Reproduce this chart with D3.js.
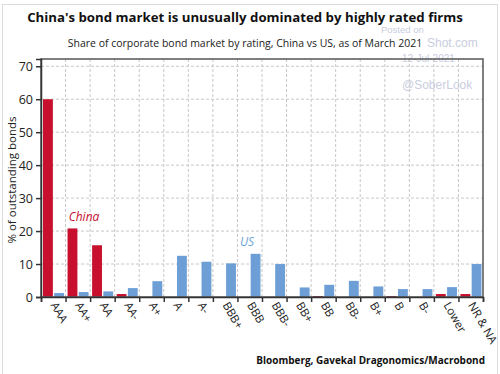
<!DOCTYPE html>
<html>
<head>
<meta charset="utf-8">
<script src="https://cdn.jsdelivr.net/npm/d3@7"></script>
<style>
  body { margin: 0; background: #fff; }
  svg { display: block; font-family: 'Open Sans', 'Noto Sans', sans-serif; }
</style>
</head>
<body>
<div id="chart"></div>
<script>
// Data
const ratings = ['AAA', 'AA+', 'AA', 'AA-', 'A+', 'A', 'A-', 'BBB+', 'BBB', 'BBB-',
  'BB+', 'BB', 'BB-', 'B+', 'B', 'B-', 'Lower', 'NR & NA'];
const chinaShare = [60, 20.8, 15.7, 0.9, 0, 0, 0, 0, 0, 0, 0, 0.3, 0, 0, 0.3, 0, 0.9, 0.9];
const usShare = [1.2, 1.5, 1.7, 2.7, 4.8, 12.5, 10.7, 10.2, 13.1, 10.0,
  2.9, 3.7, 4.9, 3.2, 2.4, 2.4, 3.0, 10.0];
const seriesNames = ['China', 'US'];
const yTicks = [0, 10, 20, 30, 40, 50, 60, 70];

const width = 500;
const height = 374;
const margin = { top: 59, right: 17, bottom: 77, left: 41 };

const red = '#c8102e';
const blue = '#6d9fd6';

const svg = d3.select('#chart')
  .append('svg')
  .attr('width', width)
  .attr('height', height);

// light outer frame of the picture
svg.append('rect')
  .attr('x', 2.5).attr('y', 4.5)
  .attr('width', 495).attr('height', 380)
  .attr('fill', 'none')
  .attr('stroke', '#dcdcdc');

// Scales
const x = d3.scaleBand()
  .domain(ratings)
  .range([margin.left, width - margin.right])
  .padding(0);
const xSub = d3.scaleBand()
  .domain(seriesNames)
  .range([2, x.bandwidth() - 1.5])
  .paddingInner(0.12);
const y = d3.scaleLinear()
  .domain([0, 72.2])
  .range([height - margin.bottom, margin.top]);

// fit a text element to a target width by scaling its font size
const fitWidth = (sel, target) => {
  const node = sel.node();
  const fs = parseFloat(sel.attr('font-size'));
  const len = node.getComputedTextLength();
  sel.attr('font-size', fs * target / len);
};

// Watermark (behind everything)
const wm = svg.append('g')
  .attr('fill', '#c9cde0')
  .attr('font-family', 'Liberation Sans, Arial, sans-serif')
  .attr('font-size', 10);
wm.append('text').attr('x', 381).attr('y', 33).attr('font-size', 9.5).text('Posted on');
wm.append('text').attr('x', 427).attr('y', 47).attr('font-size', 12).text('Shot.com');
wm.append('text').attr('x', 402).attr('y', 62).text('12-Jul-2021');
wm.append('text').attr('x', 402).attr('y', 89).attr('font-size', 12).text('@SoberLook');

// Gridlines
const grid = svg.append('g')
  .attr('stroke', '#c8c8c8')
  .attr('stroke-dasharray', '3,2')
  .attr('stroke-width', 1);
grid.selectAll('.hgrid')
  .data(yTicks.filter((d) => d > 0))
  .join('line')
  .attr('x1', margin.left).attr('x2', width - margin.right)
  .attr('y1', (d) => y(d)).attr('y2', (d) => y(d));
grid.selectAll('.vgrid')
  .data(ratings.slice(1))
  .join('line')
  .attr('x1', (d) => x(d)).attr('x2', (d) => x(d))
  .attr('y1', margin.top).attr('y2', y(0));

// Bars
const groups = svg.append('g')
  .selectAll('g')
  .data(ratings.map((r, i) => ({ rating: r, values: [chinaShare[i], usShare[i]] })))
  .join('g')
  .attr('transform', (d) => `translate(${x(d.rating)},0)`);
groups.selectAll('rect')
  .data((d) => d.values.map((v, j) => ({ name: seriesNames[j], value: v })))
  .join('rect')
  .filter((d) => d.value > 0)
  .attr('x', (d) => xSub(d.name))
  .attr('width', xSub.bandwidth())
  .attr('y', (d) => y(d.value))
  .attr('height', (d) => y(0) - y(d.value))
  .attr('fill', (d) => (d.name === 'China' ? red : blue));

// Plot frame
svg.append('rect')
  .attr('x', margin.left).attr('y', margin.top)
  .attr('width', width - margin.left - margin.right)
  .attr('height', y(0) - margin.top)
  .attr('fill', 'none')
  .attr('stroke', '#555')
  .attr('stroke-width', 1.5);

// Y axis
const yAxis = svg.append('g')
  .attr('transform', `translate(${margin.left},0)`)
  .call(d3.axisLeft(y).tickValues(yTicks).tickSize(5).tickPadding(3));
yAxis.select('.domain').attr('stroke', '#333').attr('stroke-width', 1.5);
yAxis.selectAll('.tick line').attr('stroke', '#333').attr('stroke-width', 1.5);
yAxis.selectAll('.tick text')
  .attr('font-size', 12.5)
  .attr('fill', '#222')
  .attr('font-family', 'Open Sans, sans-serif');

// X axis: ticks on the category boundaries
const xEdge = d3.scaleLinear()
  .domain([0, ratings.length])
  .range(x.range());
const xAxis = svg.append('g')
  .attr('transform', `translate(0,${y(0)})`)
  .call(d3.axisBottom(xEdge).tickValues(d3.range(ratings.length + 1))
    .tickSize(5).tickFormat(''));
xAxis.select('.domain').attr('stroke', '#333').attr('stroke-width', 1.5);
xAxis.selectAll('.tick line').attr('stroke', '#333').attr('stroke-width', 1.5);

// X labels, rotated
svg.append('g')
  .selectAll('text')
  .data(ratings)
  .join('text')
  .attr('transform', (d) => `translate(${x(d) + x.bandwidth() / 2 - 3},${y(0) + 8}) rotate(60)`)
  .attr('font-size', 11.5)
  .attr('fill', '#222')
  .attr('font-family', 'Open Sans, sans-serif')
  .text((d) => d);

// Y axis title
svg.append('text')
  .attr('transform', `translate(16,${(margin.top + y(0)) / 2 + 2}) rotate(-90)`)
  .attr('text-anchor', 'middle')
  .attr('font-size', 11.5)
  .attr('fill', '#222')
  .text('% of outstanding bonds');

// Series labels
svg.append('text')
  .attr('x', 84).attr('y', y(23))
  .attr('text-anchor', 'middle')
  .attr('font-size', 12)
  .attr('font-style', 'italic')
  .attr('fill', red)
  .text('China');
svg.append('text')
  .attr('x', 247).attr('y', y(15.6))
  .attr('text-anchor', 'middle')
  .attr('font-size', 12)
  .attr('font-style', 'italic')
  .attr('fill', blue)
  .text('US');

// Title
const title = svg.append('text')
  .attr('x', 245).attr('y', 22)
  .attr('text-anchor', 'middle')
  .attr('font-size', 16)
  .attr('font-weight', 'bold')
  .attr('fill', '#111')
  .text("China's bond market is unusually dominated by highly rated firms");
fitWidth(title, 436);

// Subtitle
const subtitle = svg.append('text')
  .attr('x', 245).attr('y', 47)
  .attr('text-anchor', 'middle')
  .attr('font-size', 12)
  .attr('fill', '#222')
  .text('Share of corporate bond market by rating, China vs US, as of March 2021');
fitWidth(subtitle, 355);

// Source
const source = svg.append('text')
  .attr('x', 485).attr('y', 364)
  .attr('text-anchor', 'end')
  .attr('font-size', 11)
  .attr('font-weight', 'bold')
  .attr('fill', '#111')
  .text('Bloomberg, Gavekal Dragonomics/Macrobond');
fitWidth(source, 229);
</script>
</body>
</html>
